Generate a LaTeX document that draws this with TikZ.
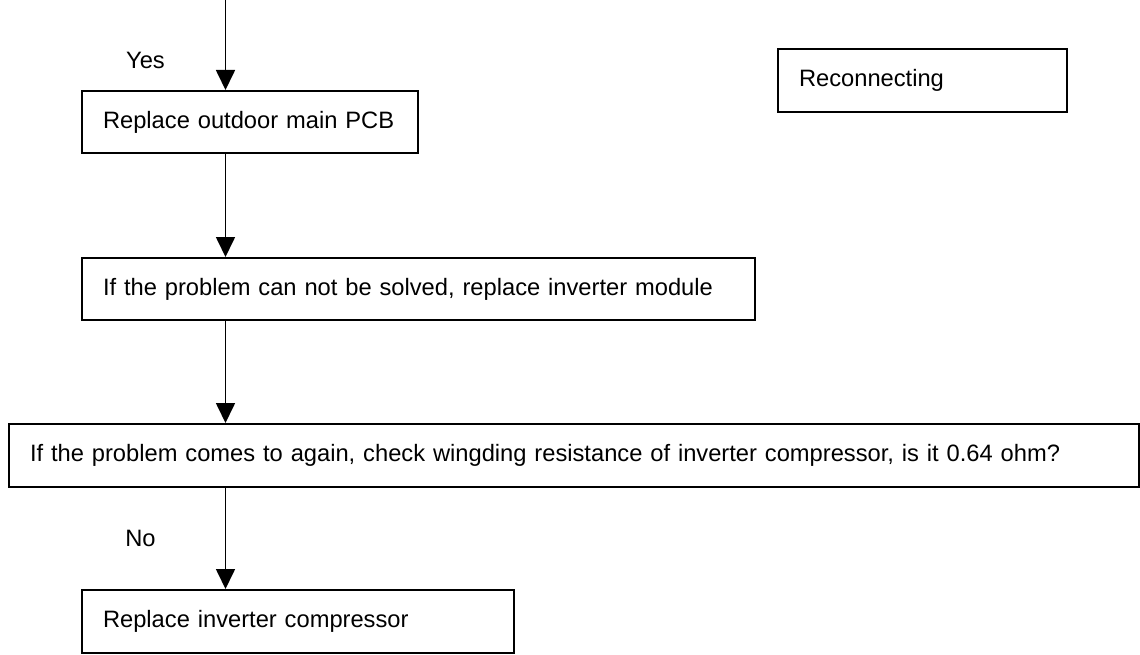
\documentclass[tikz,border=0pt]{standalone}
\usepackage{fontspec}
\setmainfont{Liberation Sans}
\usepackage{tikz}
\usetikzlibrary{arrows.meta, positioning, calc}

\begin{document}
\begin{tikzpicture}[x=1pt, y=1pt, >={Triangle[length=20pt, width=19pt]},
    font=\fontsize{23.7}{28}\selectfont,
    stepbox/.style={draw, line width=2pt, rectangle, anchor=north west, align=left, inner xsep=21pt, inner ysep=0pt},
    flow/.style={->, line width=1.7pt}]

    \useasboundingbox (0,0) rectangle (1140,-655);

    % Entry of the flow from above
    \coordinate (entry) at (225.5,0);

    % Steps
    \node (pcb) [stepbox, text width=294pt, minimum height=62pt] at (81,-90) {Replace outdoor main PCB};
    \node (reconn) [stepbox, text width=247pt, minimum height=63pt] at (777,-48) {Reconnecting};
    \node (module) [stepbox, text width=631pt, minimum height=62pt] at (81,-257) {If the problem can not be solved, replace inverter module};
    \node (winding) [stepbox, text width=1088pt, minimum height=63pt] at (8,-423) {If the problem comes to again, check wingding resistance of inverter compressor, is it 0.64 ohm?};
    \node (compr) [stepbox, text width=390pt, minimum height=63pt] at (81,-589) {Replace inverter compressor};

    % Answers
    \node (yes) at (145.5,-60) {Yes};
    \node (no) at (140.5,-538) {No};

    % Connections
    \draw[flow] (entry) -- (entry |- pcb.north);
    \draw[flow] (entry |- pcb.south) -- (entry |- module.north);
    \draw[flow] (entry |- module.south) -- (entry |- winding.north);
    \draw[flow] (entry |- winding.south) -- (entry |- compr.north);
\end{tikzpicture}
\end{document}
